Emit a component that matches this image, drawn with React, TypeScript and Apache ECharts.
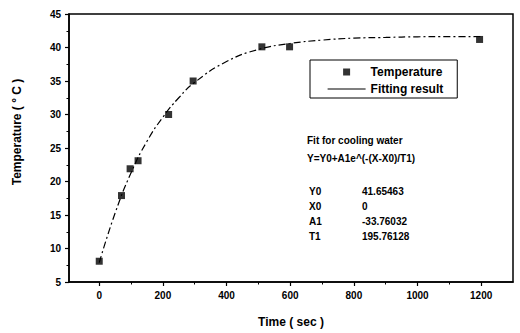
import React, { useEffect, useRef } from "react";
import * as echarts from "echarts";

const timeSec = [0, 70, 97, 122, 218, 295, 511, 598, 1195];
const temperature = [8.1, 17.9, 21.9, 23.1, 30.0, 35.0, 40.1, 40.1, 41.2];

const fitTime = [0, 50, 100, 150, 200, 250, 300, 400, 500, 600, 700, 800, 900, 1000, 1100, 1200];
const fitTemp = [7.9, 15.3, 21.3, 26.0, 29.6, 32.5, 34.8, 37.9, 39.7, 40.6, 41.1, 41.4, 41.5, 41.6, 41.62, 41.64];

const xMajorTicks = [0, 200, 400, 600, 800, 1000, 1200];
const xMinorTicks = [100, 300, 500, 700, 900, 1100];

const fitTitle = "Fit for cooling water";
const fitFormula = "Y=Y0+A1e^(-(X-X0)/T1)";
const paramNames = ["Y0", "X0", "A1", "T1"];
const paramValues = ["41.65463", "0", "-33.76032", "195.76128"];

const FONT = "Liberation Sans, Arial, sans-serif";

export default function App() {
  const ref = useRef<HTMLDivElement>(null);
  useEffect(() => {
    if (!ref.current) return;
    const chart = echarts.init(ref.current, undefined, { renderer: "svg" });
    const labelStyle = { color: "#000", fontFamily: FONT, fontWeight: "bold", fontSize: 10 };
    const graphics: any[] = [
      {
        type: "text",
        left: 307,
        top: 135,
        style: { text: fitTitle, fill: "#000", font: `bold 10px ${FONT}` },
      },
      {
        type: "text",
        left: 307,
        top: 153,
        style: { text: fitFormula, fill: "#000", font: `bold 10px ${FONT}` },
      },
      {
        type: "text",
        x: 17,
        y: 132,
        rotation: Math.PI / 2,
        style: {
          text: "Temperature ( ° C )",
          fill: "#000",
          font: `bold 12px ${FONT}`,
          align: "center",
          verticalAlign: "middle",
        },
      },
    ];
    paramNames.forEach((n, i) => {
      graphics.push({
        type: "text",
        left: 309,
        top: 186 + i * 15,
        style: { text: n, fill: "#000", font: `bold 10px ${FONT}` },
      });
      graphics.push({
        type: "text",
        left: 362,
        top: 186 + i * 15,
        style: { text: paramValues[i], fill: "#000", font: `bold 10px ${FONT}` },
      });
    });

    chart.setOption({
      animation: false,
      backgroundColor: "#fff",
      grid: {
        left: 69,
        right: 7,
        top: 14,
        bottom: 48,
        show: true,
        borderColor: "#000",
        borderWidth: 1.5,
        containLabel: false,
      },
      legend: {
        orient: "vertical",
        left: 310,
        top: 60,
        padding: [6, 14, 3, 17],
        itemGap: 5,
        itemWidth: 38,
        itemHeight: 7,
        symbolKeepAspect: true,
        borderColor: "#000",
        borderWidth: 1,
        borderRadius: 0,
        textStyle: { color: "#000", fontFamily: FONT, fontWeight: "bold", fontSize: 12 },
        data: [
          { name: "Temperature", icon: "path://M0 0H10V10H0Z" },
          { name: "Fitting result", itemStyle: { opacity: 0 }, lineStyle: { type: "solid", width: 1.2 } },
        ],
      },
      xAxis: [
        {
          type: "value",
          min: -95,
          max: 1300,
          name: "Time ( sec )",
          nameLocation: "middle",
          nameGap: 34,
          nameTextStyle: { color: "#000", fontFamily: FONT, fontWeight: "bold", fontSize: 12 },
          axisLine: { show: true, onZero: false, lineStyle: { color: "#000", width: 1.5 } },
          axisTick: { show: true, inside: false, length: 4, customValues: xMajorTicks, lineStyle: { color: "#000", width: 1.2 } },
          axisLabel: { ...labelStyle, margin: 8, customValues: xMajorTicks, formatter: (v: number) => String(v) },
          splitLine: { show: false },
        },
        {
          type: "value",
          min: -95,
          max: 1300,
          position: "bottom",
          axisLine: { show: false },
          axisTick: { show: true, inside: false, length: 2.5, customValues: xMinorTicks, lineStyle: { color: "#000", width: 1 } },
          axisLabel: { show: false },
          splitLine: { show: false },
        },
      ],
      yAxis: {
        type: "value",
        min: 5,
        max: 45,
        interval: 5,
        axisLine: { show: true, onZero: false, lineStyle: { color: "#000", width: 1.5 } },
        axisTick: { show: true, inside: false, length: 4, lineStyle: { color: "#000", width: 1.2 } },
        minorTick: { show: true, splitNumber: 2, length: 2.5, lineStyle: { color: "#000", width: 1 } },
        axisLabel: { ...labelStyle, margin: 8 },
        splitLine: { show: false },
      },
      graphic: graphics,
      series: [
        {
          name: "Fitting result",
          type: "line",
          data: fitTime.map((t, i) => [t, fitTemp[i]]),
          smooth: true,
          showSymbol: false,
          symbol: "none",
          lineStyle: { color: "#000", width: 1.2, type: [7, 3, 2, 3] },
          itemStyle: { color: "#000" },
          z: 2,
        },
        {
          name: "Temperature",
          type: "scatter",
          data: timeSec.map((t, i) => [t, temperature[i]]),
          symbol: "rect",
          symbolSize: 7,
          itemStyle: { color: "#000" },
          z: 3,
        },
      ],
    });
    return () => chart.dispose();
  }, []);
  return <div ref={ref} style={{ width: 520, height: 333, position: "absolute", left: 0, top: 0 }} />;
}
